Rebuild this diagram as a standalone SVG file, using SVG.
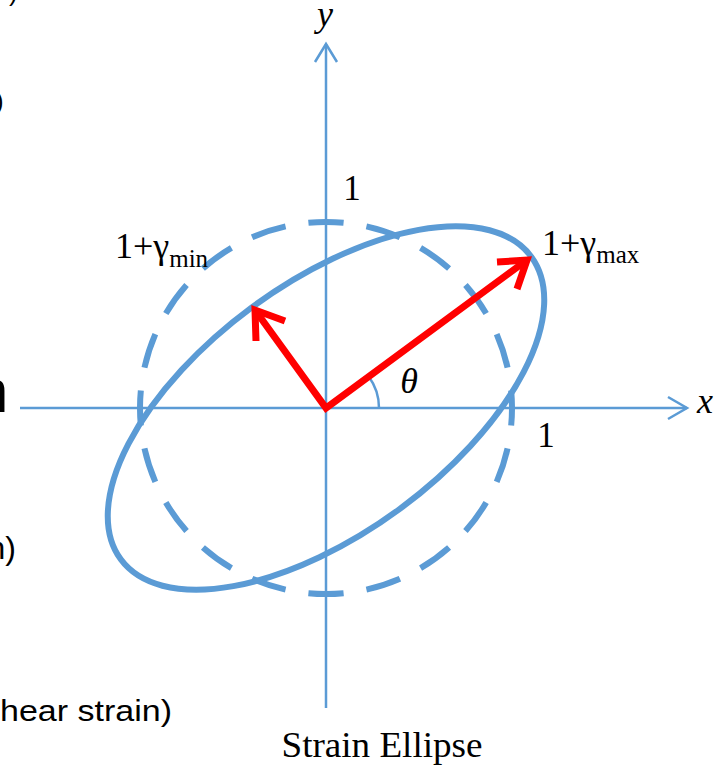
<svg xmlns="http://www.w3.org/2000/svg" width="718" height="767" viewBox="0 0 718 767">
  <style>
    .axis { stroke: #5B9BD5; stroke-width: 2.5; fill: none; }
    .curve { stroke: #5B9BD5; stroke-width: 6; fill: none; }
    .red { stroke: #FF0000; stroke-width: 7; fill: none; }
    .serif { font-family: "Liberation Serif", "DejaVu Serif", serif; fill: #000; }
    .ital { font-style: italic; }
    .sans { font-family: "Liberation Sans", "Open Sans", sans-serif; fill: #000; }
  </style>
  <rect width="718" height="767" fill="#FFFFFF"/>

  <g id="cropped-text">
    <text class="sans" x="9" y="0.5" font-size="26">)</text>
    <text class="sans" x="-5" y="110" font-size="26">)</text>
    <text class="sans" x="8.5" y="412" font-size="62" text-anchor="end">n</text>
    <text class="sans" x="16" y="559" font-size="32" text-anchor="end">n)</text>
    <text class="sans" x="0" y="721" font-size="29" textLength="172" lengthAdjust="spacingAndGlyphs">hear strain)</text>
  </g>

  <g id="axes">
    <line class="axis" x1="20" y1="408" x2="687" y2="408"/>
    <polyline class="axis" points="668,397 687,408 668,419"/>
    <line class="axis" x1="326" y1="708" x2="326" y2="44"/>
    <polyline class="axis" points="315,62 326,44 337,62"/>
    <path id="theta-arc" class="axis" d="M 379 408 A 53 53 0 0 0 368.7 376.5"/>
  </g>

  <g id="unit-circle">
    <circle class="curve" cx="326" cy="408" r="186" pathLength="1160" stroke-dasharray="35 23" stroke-dashoffset="17.5"/>
  </g>

  <g id="strain-ellipse">
    <ellipse class="curve" cx="326" cy="408" rx="255" ry="125" transform="rotate(-36.4 326 408)"/>
  </g>

  <g id="axes-vectors">
    <polyline class="red" points="255,310 326,408 527,260" stroke-linejoin="miter"/>
    <polyline class="red" points="497,262 527,260 517,289"/>
    <polyline class="red" points="285,321 255,310 256,341"/>
  </g>

  <g id="labels">
    <text class="serif ital" x="325" y="26" font-size="36" text-anchor="middle">y</text>
    <text class="serif ital" x="705" y="413" font-size="36" text-anchor="middle">x</text>
    <text class="serif" x="352" y="200" font-size="35" text-anchor="middle">1</text>
    <text class="serif" x="546" y="447" font-size="35" text-anchor="middle">1</text>
    <text class="serif ital" x="409" y="393" font-size="36" text-anchor="middle">θ</text>
    <text class="serif" x="115" y="258" font-size="36">1+γ<tspan font-size="25" dy="9">min</tspan></text>
    <text class="serif" x="542" y="255" font-size="36">1+γ<tspan font-size="25" dy="8">max</tspan></text>
    <text class="serif" x="382" y="757" font-size="35" text-anchor="middle" textLength="201" lengthAdjust="spacingAndGlyphs">Strain Ellipse</text>
  </g>
</svg>
